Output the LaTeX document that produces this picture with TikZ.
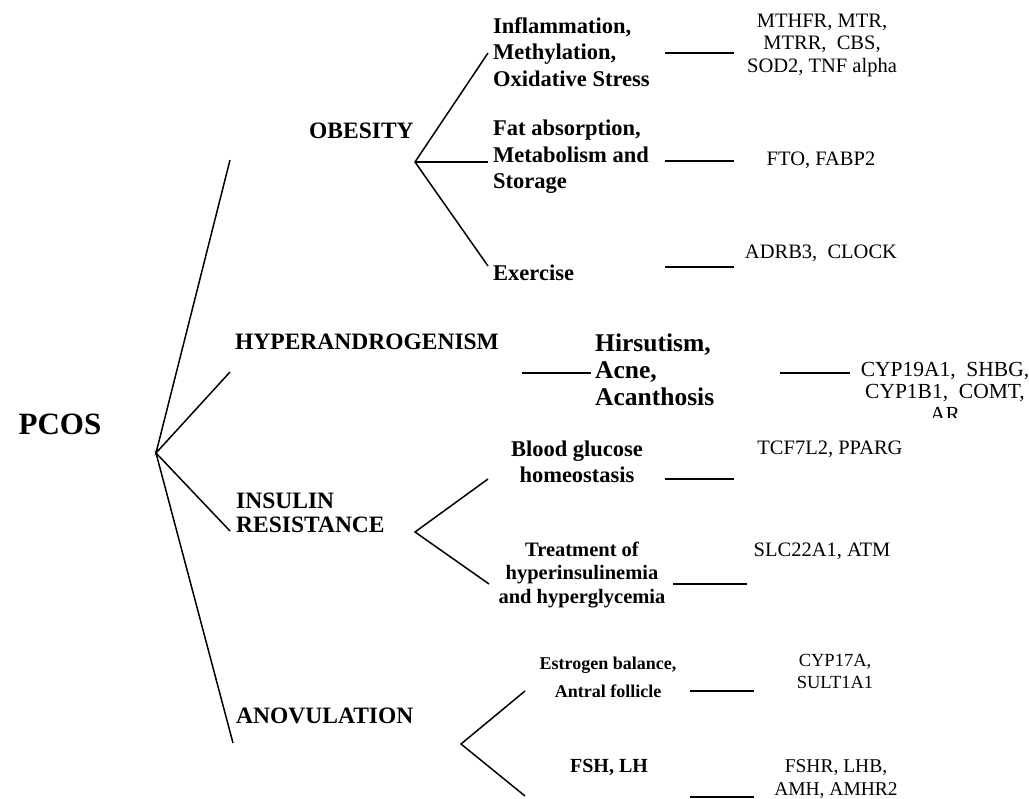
\documentclass[tikz,border=0pt]{standalone}
\usepackage{fontspec}
\setmainfont{Liberation Serif}
\begin{document}
\begin{tikzpicture}[x=1pt,y=-1pt,
  link/.style={draw=black,line width=1.5pt},
  cat/.style={inner sep=0pt,font=\bfseries\fontsize{23.5}{24.5}\selectfont,align=left},
  sub/.style={inner sep=0pt,font=\bfseries\fontsize{22.5}{26.5}\selectfont},
  subs/.style={inner sep=0pt,font=\bfseries\fontsize{20.5}{23.5}\selectfont,align=center},
  gene/.style={inner sep=0pt,font=\fontsize{20.5}{22.5}\selectfont,align=center}]
\useasboundingbox (0,0) rectangle (1029,799);

% root
\node[inner sep=0pt,font=\bfseries\fontsize{31}{33}\selectfont] (pcos) at (60,424) {PCOS};
\coordinate (root) at (156,453);
\coordinate (r1) at (230,160);
\coordinate (r2) at (230,372);
\coordinate (r3) at (230,531);
\coordinate (r4) at (233,743);
\draw[link] (r1) -- (root) -- (r2);
\draw[link] (r3) -- (root) -- (r4);

% OBESITY
\node[cat,anchor=west] (obesity) at (309,131) {OBESITY};
\coordinate (ob) at (415,162);
\coordinate (ob1) at (488,53);
\coordinate (ob2) at (488,162);
\coordinate (ob3) at (488,266);
\draw[link] (ob1) -- (ob) -- (ob3);
\draw[link] (ob) -- (ob2);
\node[sub,anchor=west,align=left] (infl) at (493,52) {Inflammation,\\Methylation,\\Oxidative Stress};
\node[sub,anchor=west,align=left] (fat) at (493,157) {Fat absorption,\\Metabolism and\\Storage};
\node[sub,anchor=west] (exer) at (493,273) {Exercise};
\coordinate (a1) at (665,53);  \coordinate (b1) at (734,53);
\coordinate (a2) at (665,161); \coordinate (b2) at (734,161);
\coordinate (a3) at (665,267); \coordinate (b3) at (734,267);
\draw[link] (a1) -- (b1);
\draw[link] (a2) -- (b2);
\draw[link] (a3) -- (b3);
\node[gene] (g1) at (822,45) {MTHFR, MTR,\\MTRR, \ CBS,\\SOD2, TNF alpha};
\node[gene] (g2) at (821,160) {FTO, FABP2};
\node[gene] (g3) at (821,253) {ADRB3, \ CLOCK};

% HYPERANDROGENISM
\node[cat,anchor=west] (hyper) at (235,342) {HYPERANDROGENISM};
\coordinate (h1) at (522,373); \coordinate (h2) at (591,373);
\draw[link] (h1) -- (h2);
\node[sub,anchor=west,align=left,font=\bfseries\fontsize{25.5}{27}\selectfont] (hirs) at (595,370) {Hirsutism,\\Acne,\\Acanthosis};
\coordinate (h3) at (780,373); \coordinate (h4) at (850,373);
\draw[link] (h3) -- (h4);
\begin{scope}
\clip (855,350) rectangle (1029,418);
\node[gene,font=\fontsize{21.5}{22.5}\selectfont] (g4) at (945,391.5) {CYP19A1, \ SHBG,\\CYP1B1, \ COMT,\\AR};
\end{scope}

% INSULIN RESISTANCE
\node[cat,anchor=west] (insulin) at (236,513) {INSULIN\\RESISTANCE};
\coordinate (ir) at (415,532);
\coordinate (ir1) at (488,479);
\coordinate (ir2) at (489,584);
\draw[link] (ir1) -- (ir) -- (ir2);
\node[sub,align=center] (blood) at (577,462) {Blood glucose\\homeostasis};
\coordinate (c1) at (665,479); \coordinate (d1) at (734,479);
\draw[link] (c1) -- (d1);
\node[gene] (g5) at (830,449) {TCF7L2, PPARG};
\node[subs] (treat) at (582,575) {Treatment of\\hyperinsulinemia\\and hyperglycemia};
\coordinate (c2) at (673,584); \coordinate (d2) at (747,584);
\draw[link] (c2) -- (d2);
\node[gene] (g6) at (822,551) {SLC22A1, ATM};

% ANOVULATION
\node[cat,anchor=west] (anov) at (236,716) {ANOVULATION};
\coordinate (an) at (461,744);
\coordinate (an1) at (525,691);
\coordinate (an2) at (525,796);
\draw[link] (an1) -- (an) -- (an2);
\node[inner sep=0pt,font=\bfseries\fontsize{18}{28}\selectfont,align=center] (estr) at (608,677) {Estrogen balance,\\Antral follicle};
\coordinate (e1) at (690,691); \coordinate (f1) at (754,691);
\draw[link] (e1) -- (f1);
\node[gene,font=\fontsize{18.5}{22}\selectfont] (g7) at (835,671) {CYP17A,\\SULT1A1};
\node[inner sep=0pt,font=\bfseries\fontsize{20}{23}\selectfont] (fsh) at (609,767) {FSH, LH};
\coordinate (e2) at (690,797); \coordinate (f2) at (754,797);
\draw[link] (e2) -- (f2);
\node[gene,font=\fontsize{19.5}{23}\selectfont] (g8) at (836,779) {FSHR, LHB,\\AMH, AMHR2};
\end{tikzpicture}
\end{document}
